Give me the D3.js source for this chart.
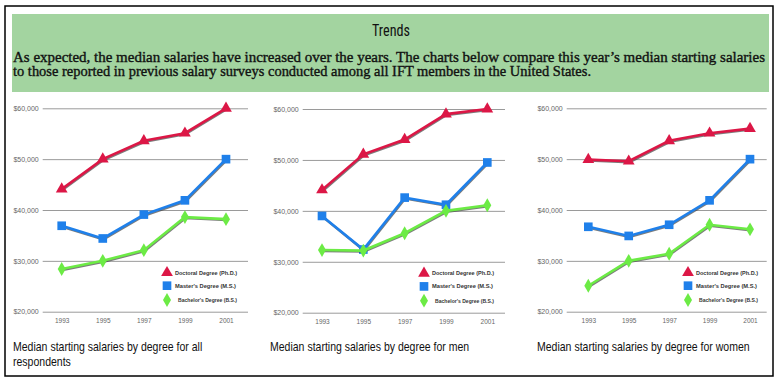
<!DOCTYPE html>
<html><head><meta charset="utf-8">
<script src="https://cdn.jsdelivr.net/npm/d3@7"></script>
<style>body{margin:0;background:#fff}svg{display:block}</style>
</head><body>
<svg id="c" width="781" height="378"></svg>
<script>
// ---- data ----
const years = ["1993", "1995", "1997", "1999", "2001"];
const yTicks = [20000, 30000, 40000, 50000, 60000];
const seriesNames = ["Doctoral Degree (Ph.D.)", "Master's Degree (M.S.)", "Bachelor's Degree (B.S.)"];
const allDoctoral  = [44100, 50000, 53600, 55100, 60000];
const allMasters   = [36900, 34400, 39100, 41900, 50000];
const allBachelors = [28400, 30000, 32100, 38600, 38200];
const menDoctoral  = [44100, 51100, 54000, 59000, 60000];
const menMasters   = [39000, 32400, 42600, 41200, 49500];
const menBachelors = [32300, 32200, 35600, 40000, 41100];
const womenDoctoral  = [49900, 49600, 53600, 55100, 56000];
const womenMasters   = [36700, 34900, 37100, 41900, 50000];
const womenBachelors = [25100, 30000, 31400, 37100, 36200];
const headerTitle = "Trends";
const headerLines = [
  "As expected, the median salaries have increased over the years. The charts below compare this year\u2019s median starting salaries",
  "to those reported in previous salary surveys conducted among all IFT members in the United States."
];
const captions = [
  ["Median starting salaries by degree for all", "respondents"],
  ["Median starting salaries by degree for men"],
  ["Median starting salaries by degree for women"]
];

// ---- layout ----
const svg = d3.select("#c");
const colors = ["#dc1746", "#1f80ea", "#6ceb45"];
const shapes = [d3.symbolTriangle, d3.symbolSquare, d3.symbolDiamond];
const symSizes = [60, 75, 55];

svg.append("rect").attr("x", 5).attr("y", 6).attr("width", 768).attr("height", 370)
  .attr("fill", "#fff").attr("stroke", "#000").attr("stroke-width", 1.5);
svg.append("rect").attr("x", 12).attr("y", 14).attr("width", 757).attr("height", 78)
  .attr("fill", "#a3d4a0");

svg.append("text").attr("x", 391).attr("y", 36).attr("text-anchor", "middle")
  .attr("font-family", "'Liberation Sans Narrow','Arial Narrow','Roboto Condensed',sans-serif")
  .attr("font-size", 16).attr("fill", "#111").text(headerTitle)
  .attr("textLength", 38).attr("lengthAdjust", "spacingAndGlyphs");

const hlWidths = [752, 578];
const hlY = [61.5, 76];
headerLines.forEach((t, i) => svg.append("text")
  .attr("x", 13).attr("y", hlY[i])
  .attr("font-family", "'Liberation Serif','DejaVu Serif',serif")
  .attr("font-size", 14).attr("fill", "#111")
  .attr("stroke", "#111").attr("stroke-width", 0.35)
  .attr("textLength", hlWidths[i]).attr("lengthAdjust", "spacingAndGlyphs")
  .text(t));

const panels = [
  {data: [allDoctoral, allMasters, allBachelors], gx0: 42.7, gx1: 248, px0: 61.7, px1: 226, y60: 108.3, y20: 311.7, cx: 13, lgx: 167},
  {data: [menDoctoral, menMasters, menBachelors], gx0: 302.7, gx1: 505, px0: 322, px1: 487.3, y60: 109, y20: 312.7, cx: 270, lgx: 424},
  {data: [womenDoctoral, womenMasters, womenBachelors], gx0: 566.7, gx1: 766.7, px0: 588.3, px1: 750, y60: 108.3, y20: 311.7, cx: 537, lgx: 688}
];

const capTexts = [];
panels.forEach((p, pi) => {
  const g = svg.append("g");
  const x = d3.scalePoint().domain(years).range([p.px0, p.px1]);
  const y = d3.scaleLinear().domain([20000, 60000]).range([p.y20, p.y60]);

  const ya = g.append("g").attr("transform", `translate(${p.gx0},0)`)
    .call(d3.axisLeft(y).tickValues(yTicks).tickSize(-(p.gx1 - p.gx0)).tickPadding(4)
      .tickFormat(d => "$" + d3.format(",")(d)));
  ya.select(".domain").remove();
  ya.selectAll(".tick line").attr("stroke", "#9a9a9a").attr("stroke-width", 1);
  ya.selectAll(".tick text").attr("font-family", "'Liberation Sans',Arial,sans-serif")
    .attr("font-size", 7).attr("fill", "#666");

  const xa = g.append("g").attr("transform", `translate(0,${p.y20 + 5})`)
    .call(d3.axisBottom(x).tickSize(0).tickPadding(2));
  xa.select(".domain").remove();
  xa.selectAll(".tick text").attr("font-family", "'Liberation Sans',Arial,sans-serif")
    .attr("font-size", 6.5).attr("fill", "#666");

  const line = d3.line().x((d, i) => x(years[i])).y(d => y(d));
  p.data.forEach((vals, si) => {
    g.append("path").datum(vals).attr("d", line).attr("fill", "none")
      .attr("stroke", "#444").attr("stroke-width", 2.4).attr("opacity", 0.7)
      .attr("transform", "translate(0.6,1)");
    g.append("path").datum(vals).attr("d", line).attr("fill", "none")
      .attr("stroke", colors[si]).attr("stroke-width", 2.6);
    g.selectAll(null).data(vals).join("path")
      .attr("d", d3.symbol().type(shapes[si]).size(symSizes[si]))
      .attr("transform", (d, i) => `translate(${x(years[i])},${y(d)})`)
      .attr("fill", colors[si]);
  });

  // legend
  const rows = [164.4, 177.4, 191.7];
  const tw = [62, 61, 59];
  const toff = [8, 8, 11];
  seriesNames.forEach((n, si) => {
    const ly = p.y60 + rows[si];
    g.append("path").attr("d", d3.symbol().type(shapes[si]).size(symSizes[si]))
      .attr("transform", `translate(${p.lgx},${ly})`).attr("fill", colors[si]);
    g.append("text").attr("x", p.lgx + toff[si]).attr("y", ly + 2)
      .attr("font-family", "'Liberation Sans',Arial,sans-serif").attr("font-weight", "bold")
      .attr("font-size", 5.5).attr("fill", "#333").text(n)
      .attr("textLength", tw[si]).attr("lengthAdjust", "spacingAndGlyphs");
  });

  captions[pi].forEach((c, li) => {
    const t = svg.append("text").attr("x", 0).attr("y", 0)
      .attr("font-family", "'Liberation Sans Narrow','Arial Narrow',Arial,sans-serif")
      .attr("font-size", 12).attr("fill", "#111").text(c);
    capTexts.push({t, x: p.cx, y: 351 + li * 15});
  });
});
// scale captions so the women caption spans its reference width
const cw = capTexts[capTexts.length - 1].t.node().getComputedTextLength();
const csx = 213 / cw;
capTexts.forEach(o => o.t.attr("transform", `translate(${o.x},${o.y}) scale(${csx},1)`));
</script>
</body></html>
